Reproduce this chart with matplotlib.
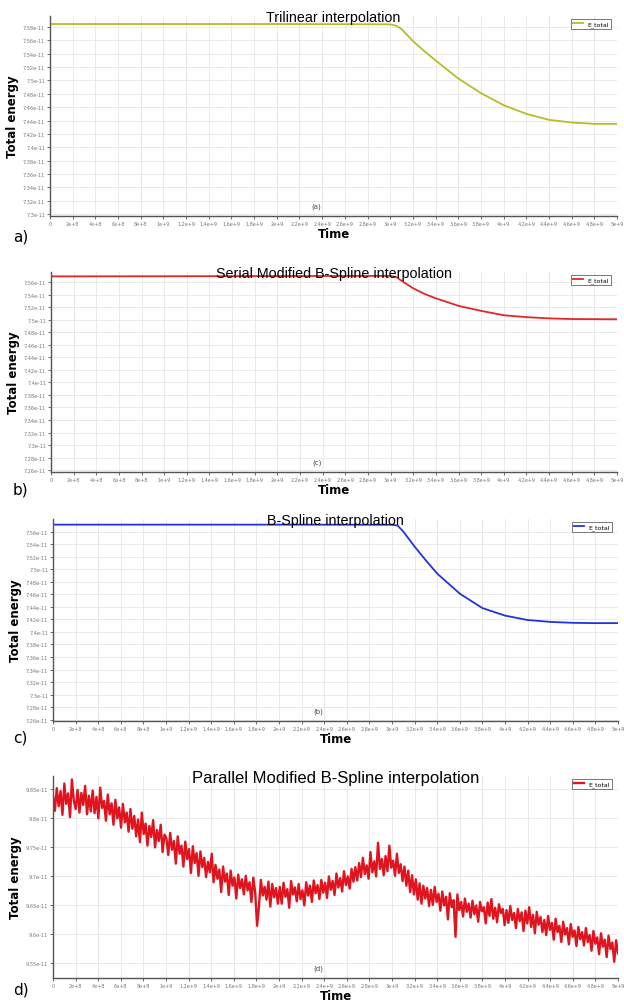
import matplotlib
matplotlib.use('Agg')
import matplotlib.pyplot as plt
import numpy as np

plt.rcParams['font.family'] = ['DejaVu Sans']
plt.rcParams['axes.edgecolor'] = '#555555'
plt.rcParams['xtick.color'] = '#555555'
plt.rcParams['ytick.color'] = '#555555'
plt.rcParams['xtick.labelcolor'] = '#777777'
plt.rcParams['ytick.labelcolor'] = '#777777'

# ---- time axis (ticks shared by all four runs) ----
x_ticks = [0, 2e8, 4e8, 6e8, 8e8, 1e9, 1.2e9, 1.4e9, 1.6e9, 1.8e9, 2e9, 2.2e9, 2.4e9,
           2.6e9, 2.8e9, 3e9, 3.2e9, 3.4e9, 3.6e9, 3.8e9, 4e9, 4.2e9, 4.4e9, 4.6e9,
           4.8e9, 5e9]
x_labels = ['0', '2e+8', '4e+8', '6e+8', '8e+8', '1e+9', '1.2e+9', '1.4e+9', '1.6e+9',
            '1.8e+9', '2e+9', '2.2e+9', '2.4e+9', '2.6e+9', '2.8e+9', '3e+9', '3.2e+9',
            '3.4e+9', '3.6e+9', '3.8e+9', '4e+9', '4.2e+9', '4.4e+9', '4.6e+9',
            '4.8e+9', '5e+9']

# ---- a) trilinear ----
t_tri = [0, 1e9, 2e9, 3.0e9, 3.05e9, 3.1e9, 3.2e9, 3.3e9, 3.4e9, 3.6e9, 3.8e9, 4.0e9,
         4.2e9, 4.4e9, 4.6e9, 4.8e9, 5.0e9]
e_tri = [7.5845, 7.5845, 7.5845, 7.5840, 7.5820, 7.5770, 7.5590, 7.5440, 7.5300,
         7.5030, 7.4810, 7.4630, 7.4500, 7.4410, 7.4370, 7.4350, 7.4350]
yt_tri = [7.58, 7.56, 7.54, 7.52, 7.5, 7.48, 7.46, 7.44, 7.42, 7.4, 7.38, 7.36, 7.34, 7.32, 7.3]

# ---- b) serial modified B-spline ----
t_ser = [0, 1e9, 2e9, 3.0e9, 3.05e9, 3.1e9, 3.2e9, 3.3e9, 3.4e9, 3.6e9, 3.8e9, 4.0e9,
         4.2e9, 4.4e9, 4.6e9, 4.8e9, 5.0e9]
e_ser = [7.5690, 7.5692, 7.5695, 7.5698, 7.5680, 7.5616, 7.5500, 7.5410, 7.5340,
         7.5220, 7.5140, 7.5070, 7.5040, 7.5020, 7.5010, 7.5008, 7.5006]
yt_ser = [7.56, 7.54, 7.52, 7.5, 7.48, 7.46, 7.44, 7.42, 7.4, 7.38, 7.36, 7.34, 7.32,
          7.3, 7.28, 7.26]

# ---- c) B-spline ----
t_bsp = [0, 1e9, 2e9, 3.0e9, 3.05e9, 3.1e9, 3.2e9, 3.3e9, 3.4e9, 3.6e9, 3.8e9, 4.0e9,
         4.2e9, 4.4e9, 4.6e9, 4.8e9, 5.0e9]
e_bsp = [7.5710, 7.5710, 7.5710, 7.5708, 7.5695, 7.5600, 7.5360, 7.5140, 7.4930,
         7.4610, 7.4380, 7.4260, 7.4190, 7.4160, 7.4145, 7.4140, 7.4140]
yt_bsp = yt_ser

# ---- d) parallel modified B-spline, energy in units of 1e-14 ----
e_par = [
    9838, 9812, 9851, 9820, 9846, 9805, 9859, 9824, 9842, 9801, 9866, 9830, 9815, 9848, 9809, 9843, 9822, 9855, 9806, 9838,
    9811, 9847, 9808, 9836, 9799, 9852, 9817, 9829, 9795, 9840, 9806, 9825, 9788, 9831, 9799, 9818, 9783, 9824, 9792, 9809,
    9776, 9815, 9781, 9803, 9768, 9797, 9758, 9809, 9772, 9790, 9752, 9786, 9767, 9796, 9749, 9779, 9760, 9788, 9741, 9771,
    9765, 9736, 9774, 9745, 9760, 9721, 9768, 9738, 9752, 9716, 9759, 9729, 9746, 9705, 9751, 9722, 9739, 9700, 9742, 9715,
    9731, 9698, 9724, 9706, 9738, 9689, 9719, 9695, 9711, 9672, 9716, 9690, 9704, 9667, 9709, 9683, 9697, 9661, 9702, 9679,
    9694, 9668, 9700, 9675, 9689, 9655, 9697, 9671, 9614, 9648, 9693, 9666, 9681, 9659, 9690, 9647, 9686, 9663, 9679, 9652,
    9681, 9652, 9688, 9664, 9677, 9645, 9691, 9668, 9680, 9656, 9686, 9660, 9675, 9649, 9689, 9666, 9683, 9655, 9692, 9670,
    9684, 9660, 9693, 9671, 9688, 9662, 9699, 9676, 9691, 9667, 9704, 9680, 9696, 9673, 9708, 9684, 9699, 9678, 9712, 9690,
    9715, 9692, 9722, 9698, 9731, 9703, 9718, 9695, 9741, 9706, 9725, 9699, 9757, 9712, 9729, 9701, 9734, 9708, 9752, 9714,
    9726, 9700, 9738, 9705, 9720, 9691, 9716, 9683, 9709, 9672, 9701, 9668, 9694, 9659, 9687, 9652, 9683, 9661, 9679, 9648,
    9676, 9650, 9681, 9655, 9669, 9640, 9673, 9649, 9664, 9625, 9670, 9646, 9658, 9595, 9668, 9641, 9655, 9630, 9661, 9638,
    9652, 9628, 9657, 9634, 9649, 9621, 9655, 9639, 9646, 9618, 9654, 9631, 9660, 9626, 9645, 9620, 9651, 9636, 9643, 9615,
    9641, 9619, 9648, 9624, 9636, 9610, 9643, 9622, 9637, 9605, 9640, 9618, 9646, 9612, 9633, 9601, 9638, 9616, 9629, 9603,
    9624, 9598, 9631, 9607, 9619, 9590, 9626, 9603, 9614, 9586, 9621, 9599, 9610, 9582, 9617, 9595, 9606, 9579, 9612, 9591,
    9603, 9580, 9610, 9586, 9598, 9571, 9605, 9583, 9594, 9565, 9601, 9578, 9590, 9560, 9597, 9574, 9585, 9552, 9589, 9566,
]
t_par = np.linspace(0, 5e9, len(e_par))
yt_par = [9.85, 9.8, 9.75, 9.7, 9.65, 9.6, 9.55]
yl_par = ['9.85e-11', '9.8e-11', '9.75e-11', '9.7e-11', '9.65e-11', '9.6e-11', '9.55e-11']

titles = ['Trilinear interpolation', 'Serial Modified B-Spline interpolation',
          'B-Spline interpolation', 'Parallel Modified B-Spline interpolation']
title_sizes = [10.3, 10.3, 10.3, 12]
tags = ['(a)', '(c)', '(b)', '(d)']
letters = ['a)', 'b)', 'c)', 'd)']
letter_y = [237, 490, 738, 990]

W, H = 624, 1004
fig = plt.figure(figsize=(W / 100, H / 100), dpi=100)

# axes boxes in pixels: left, top, right, bottom
boxes = [(50, 17, 617, 217), (51, 273, 617, 473), (53, 520, 618, 722), (53, 777, 618, 979)]
ylims = [(7.297, 7.5965), (7.257, 7.576), (7.258, 7.580), (9.524, 9.872)]


def make_axes(box):
    l, t, r, b = box
    return fig.add_axes([l / W, 1 - b / H, (r - l) / W, (b - t) / H])


def label_e(v):
    s = ('%.2f' % v).rstrip('0')
    return s + 'e-11'


def style(ax, i, yticks, ylabels):
    ax.set_xlim(0, 5e9)
    ax.set_ylim(*ylims[i])
    ax.set_xticks(x_ticks)
    ax.set_xticklabels(x_labels, fontsize=3.5)
    ax.set_yticks(yticks)
    ax.set_yticklabels(ylabels, fontsize=3.6)
    ax.tick_params(length=2, width=0.6, pad=1.5)
    ax.grid(True, color='#e6e6e6', linewidth=0.6)
    ax.set_axisbelow(True)
    for s in ['top', 'right']:
        ax.spines[s].set_visible(False)
    ax.spines['left'].set_linewidth(1.0)
    ax.spines['bottom'].set_linewidth(1.0)
    ax.set_xlabel('Time', fontsize=8.5, fontweight='bold', labelpad=1)
    ax.set_ylabel('Total energy', fontsize=8.5, fontweight='bold', labelpad=3)
    ax.text(0.5, 0.995, titles[i], transform=ax.transAxes, ha='center', va='center',
            fontsize=title_sizes[i], family=['Liberation Sans', 'DejaVu Sans'])
    ax.text(0.47, 0.035, tags[i], transform=ax.transAxes, ha='center', va='bottom',
            fontsize=5, color='#444444')
    leg = ax.legend(loc='upper right', bbox_to_anchor=(0.995, 1.0), fontsize=4.5,
                    handlelength=1.6, borderpad=0.3, fancybox=False, framealpha=1,
                    edgecolor='#777777')
    leg.get_frame().set_linewidth(0.7)
    fig.text(13 / W, 1 - letter_y[i] / H, letters[i], fontsize=11, ha='left', va='center')


series = [(t_tri, e_tri, yt_tri, '#b8bb2a'),
          (t_ser, e_ser, yt_ser, '#e02828'),
          (t_bsp, e_bsp, yt_bsp, '#2233dd')]

for i, (tt, ee, yt, col) in enumerate(series):
    ax = make_axes(boxes[i])
    ax.plot(tt, ee, color=col, linewidth=1.3, label='E_total')
    style(ax, i, yt, [label_e(v) for v in yt])

# noisy parallel run: thicker stroke so the band reads as filled
ax = make_axes(boxes[3])
ax.plot(t_par, np.array(e_par) / 1000.0, color='#e0141e', linewidth=1.7, label='E_total')
style(ax, 3, yt_par, yl_par)

fig.savefig('out.png', dpi=100)
